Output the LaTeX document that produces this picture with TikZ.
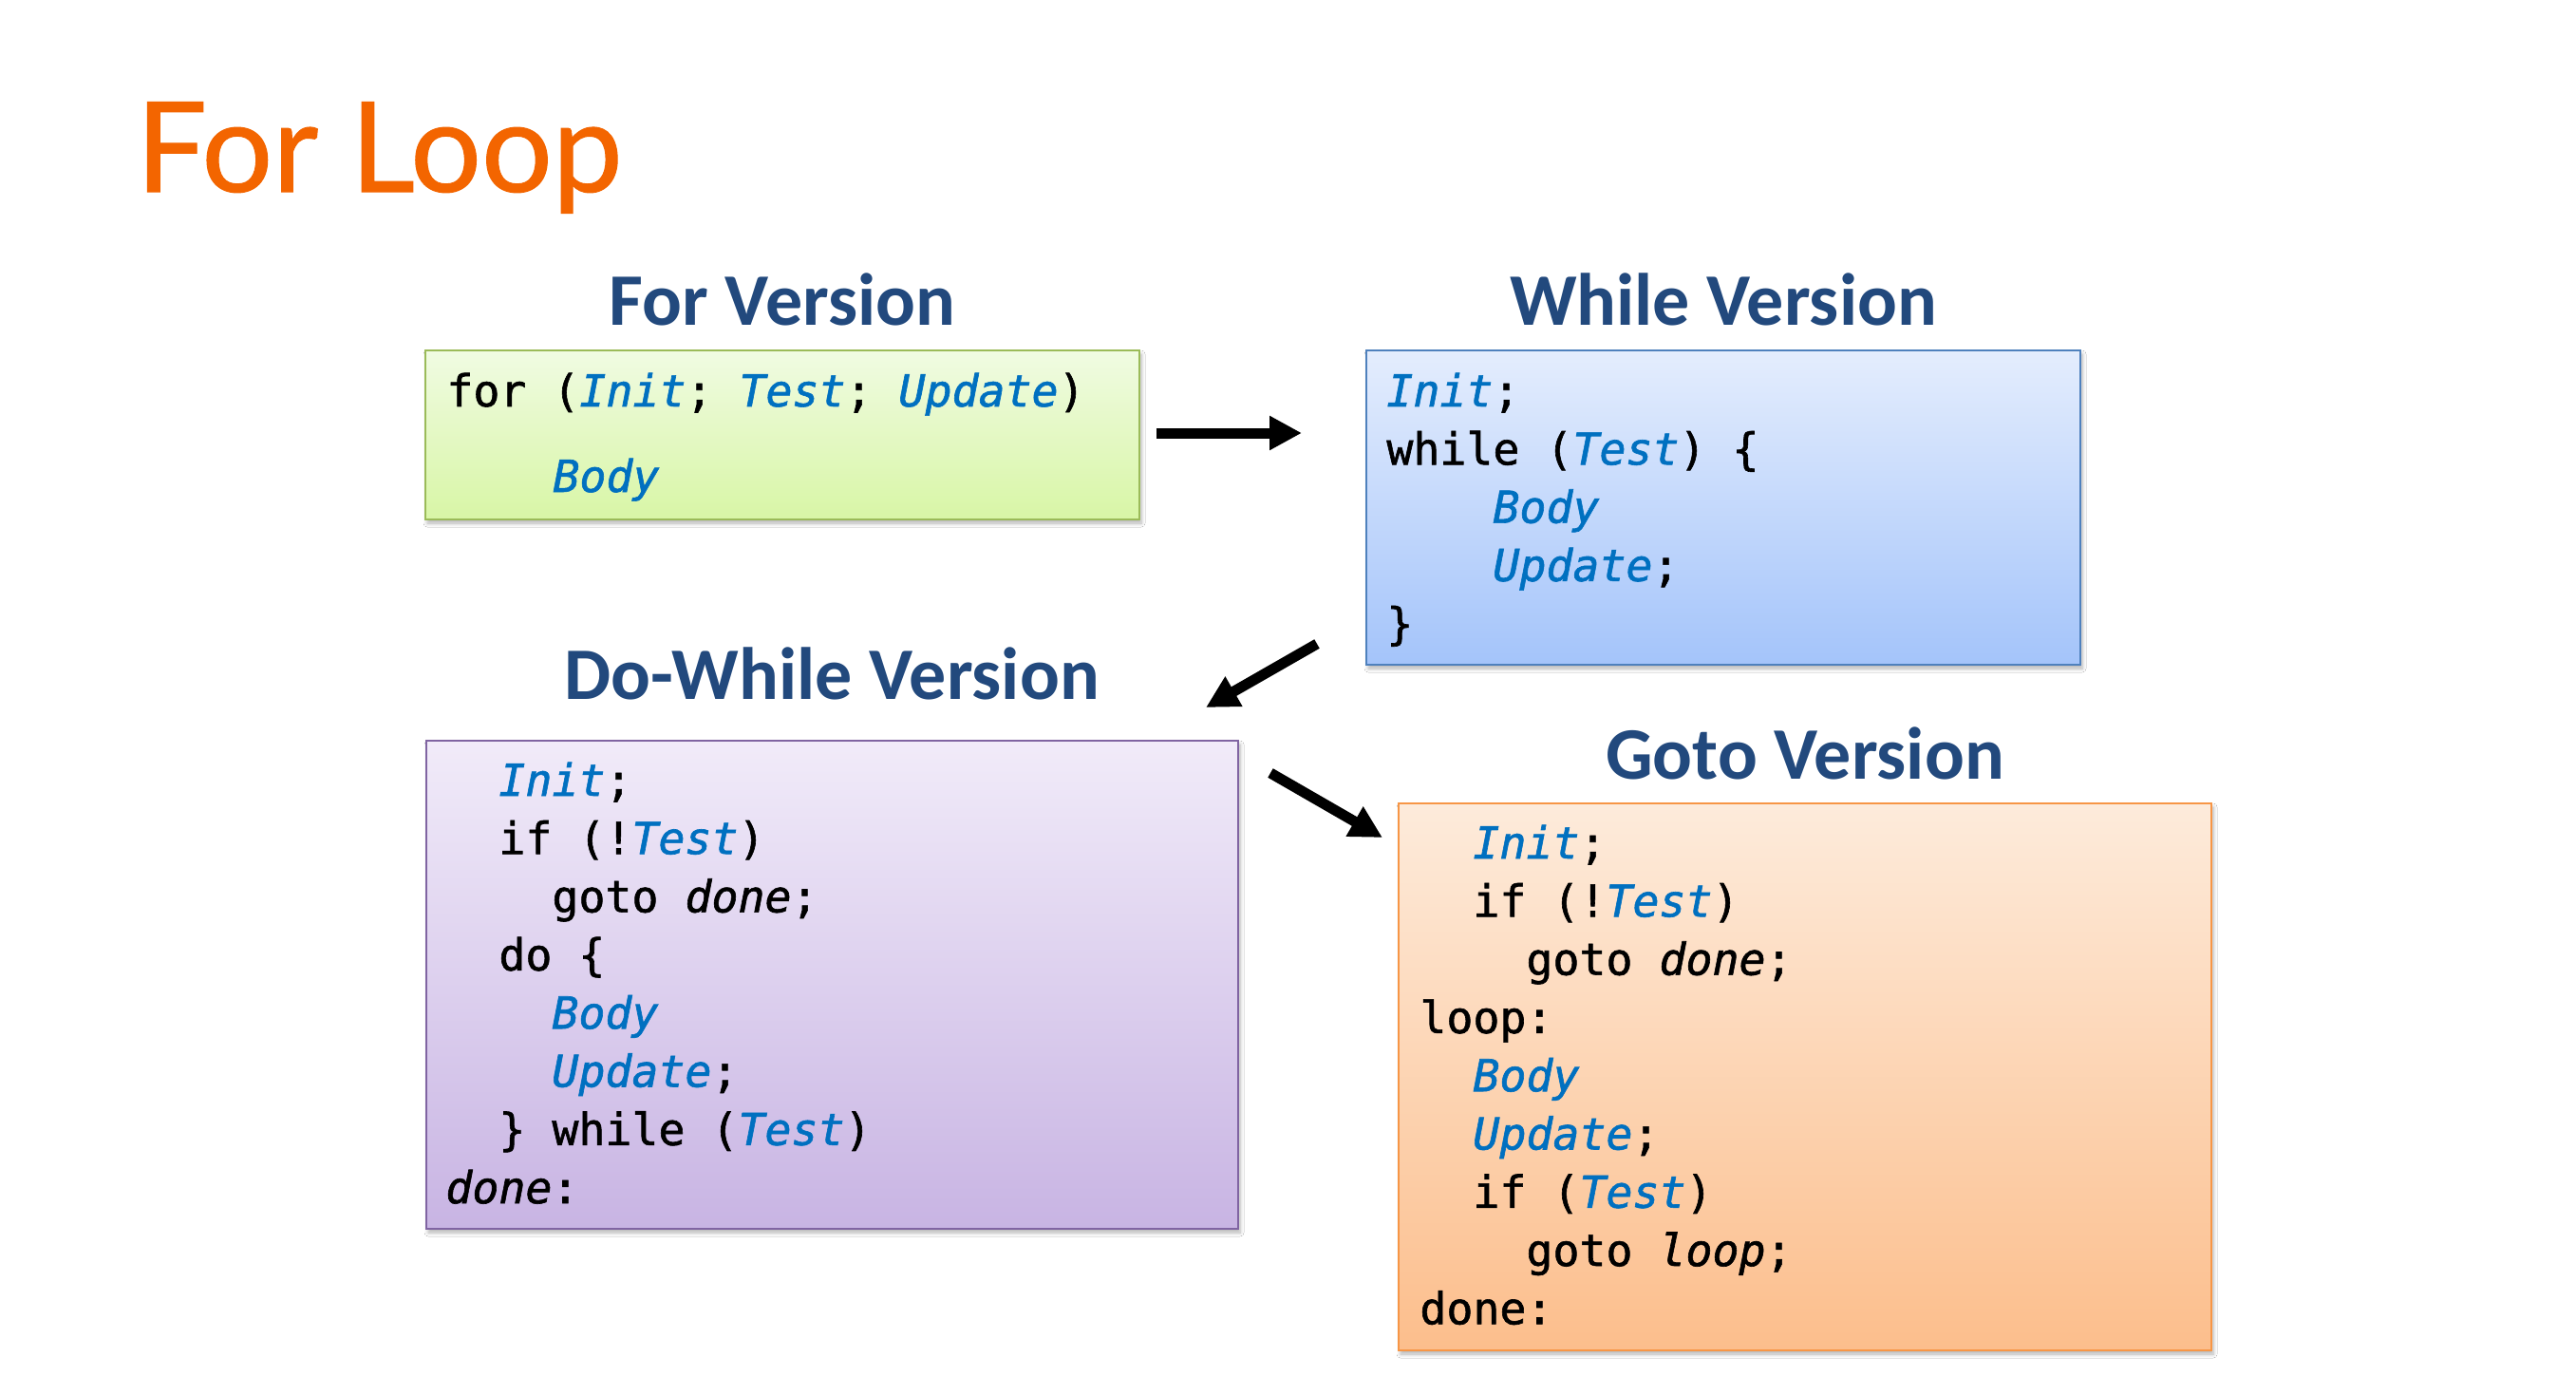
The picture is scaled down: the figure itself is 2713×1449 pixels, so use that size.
\documentclass[tikz,border=0pt]{standalone}
\usepackage{fontspec}
\usetikzlibrary{arrows.meta,shadows.blur}
\setmainfont{Carlito}
\newfontfamily\codef{DejaVu Sans Mono}[FakeBold=1.3]
\newfontfamily\headf{Carlito}
\newfontfamily\titlef{Lato}[FakeBold=0.8]
\definecolor{titleor}{RGB}{243,101,0}
\definecolor{headblue}{RGB}{34,73,125}
\definecolor{codeblue}{RGB}{0,112,192}
\definecolor{grtop}{RGB}{240,251,226}
\definecolor{grbot}{RGB}{216,246,166}
\definecolor{grline}{RGB}{155,187,89}
\definecolor{bltop}{RGB}{228,237,253}
\definecolor{blbot}{RGB}{164,196,250}
\definecolor{blline}{RGB}{79,129,189}
\definecolor{putop}{RGB}{241,235,249}
\definecolor{pubot}{RGB}{200,180,227}
\definecolor{puline}{RGB}{128,100,162}
\definecolor{ortop}{RGB}{253,235,219}
\definecolor{orbot}{RGB}{252,190,140}
\definecolor{orline}{RGB}{247,150,70}
\newcommand\cb[1]{\textcolor{codeblue}{\itshape #1}}
\newcommand\ci[1]{{\itshape #1}}
\newcommand\ind{\hphantom{xx}}
\begin{document}
\begin{tikzpicture}[x=0.5pt,y=-0.5pt,
  codebox/.style={draw, line width=1.2pt, inner sep=0pt, outer sep=0pt,
    blur shadow={shadow xshift=1pt, shadow yshift=-2pt, shadow blur radius=2pt, shadow blur steps=6, shadow opacity=30}},
  code/.style={anchor=base west, inner sep=0pt, font=\codef\fontsize{23.26}{30.65}\selectfont},
  heading/.style={anchor=base, inner sep=0pt, text=headblue, font=\headf\bfseries\fontsize{39}{47}\selectfont},
  bigarrow/.style={line width=5.5pt, -{Triangle[length=17pt,width=17pt]}}]
\useasboundingbox[fill=white] (0,0) rectangle (2713,1449);

% title
\node[anchor=base west, inner sep=0pt, text=titleor, font=\titlef\fontsize{66}{72}\selectfont] (title) at (143,202) {For Loop};

% boxes
\node[codebox, draw=grline, top color=grtop, bottom color=grbot, minimum width=376pt, minimum height=89pt] (forbox) at (824,458) {};
\node[codebox, draw=blline, top color=bltop, bottom color=blbot, minimum width=376pt, minimum height=165.5pt] (whilebox) at (1815,534.5) {};
\node[codebox, draw=puline, top color=putop, bottom color=pubot, minimum width=427.5pt, minimum height=257pt] (dobox) at (876.5,1037) {};
\node[codebox, draw=orline, top color=ortop, bottom color=orbot, minimum width=428pt, minimum height=288pt] (gotobox) at (1901,1134) {};

% headings
\node[heading] (forhead) at (824,343) {For Version};
\node[heading] (whilehead) at (1815,343) {While Version};
\node[heading] (dohead) at (876,736) {Do-While Version};
\node[heading] (gotohead) at (1901,820) {Goto Version};

% code
\node[code] (forcode) at (470,428) {\begin{tabular}[t]{@{}l@{}}
for (\cb{Init}; \cb{Test}; \cb{Update})\\[14.35pt]
\ind\ind\cb{Body}
\end{tabular}};

\node[code] (whilecode) at (1460,428) {\begin{tabular}[t]{@{}l@{}}
\cb{Init};\\
while (\cb{Test}) \{\\
\ind\ind\cb{Body}\\
\ind\ind\cb{Update};\\
\}
\end{tabular}};

\node[code] (docode) at (469,838) {\begin{tabular}[t]{@{}l@{}}
\ind\cb{Init};\\
\ind if (!\cb{Test})\\
\ind\ind goto \ci{done};\\
\ind do \{\\
\ind\ind\cb{Body}\\
\ind\ind\cb{Update};\\
\ind\} while (\cb{Test})\\
\ci{done}:
\end{tabular}};

\node[code] (gotocode) at (1495,904) {\begin{tabular}[t]{@{}l@{}}
\ind\cb{Init};\\
\ind if (!\cb{Test})\\
\ind\ind goto \ci{done};\\
loop:\\
\ind\cb{Body}\\
\ind\cb{Update};\\
\ind if (\cb{Test})\\
\ind\ind goto \ci{loop};\\
done:
\end{tabular}};

% arrows
\coordinate (a1s) at (1218,456);
\coordinate (a1e) at (1371,456);
\coordinate (a2s) at (1387,678);
\coordinate (a2e) at (1270,745);
\coordinate (a3s) at (1338,814);
\coordinate (a3e) at (1456,882);
\draw[bigarrow] (a1s) -- (a1e);
\draw[bigarrow] (a2s) -- (a2e);
\draw[bigarrow] (a3s) -- (a3e);
\end{tikzpicture}
\end{document}
